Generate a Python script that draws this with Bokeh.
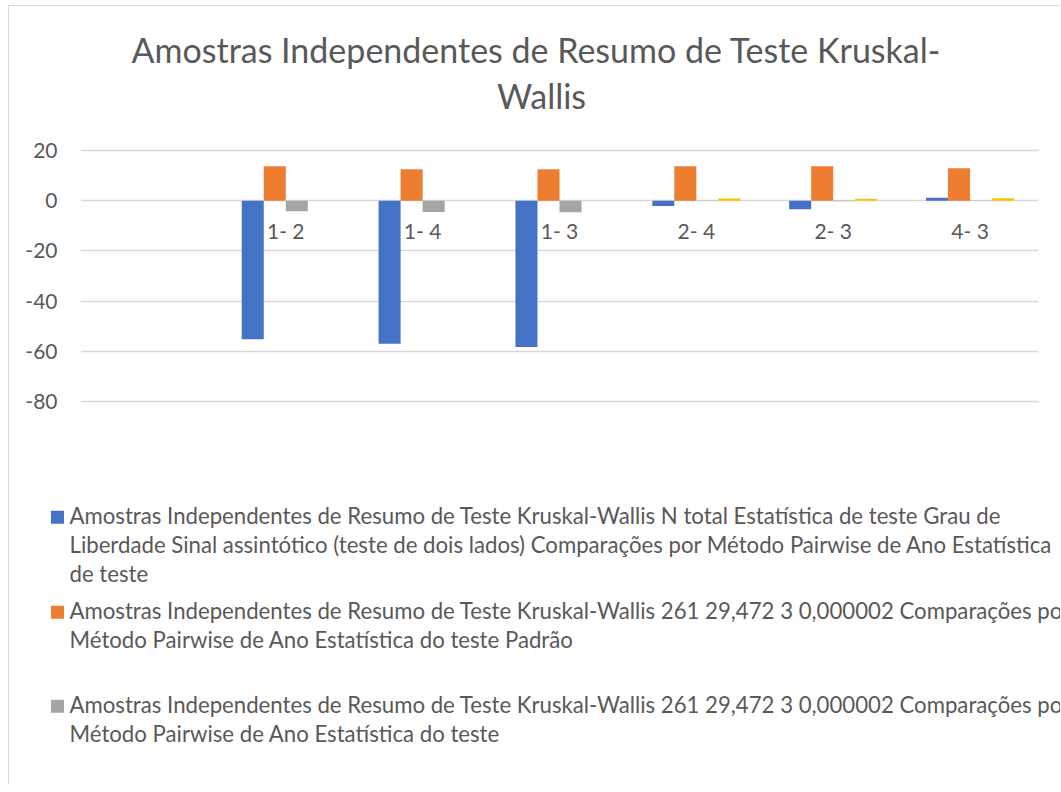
from bokeh.plotting import figure
from bokeh.models import ColumnDataSource, Range1d, FactorRange, Label
from bokeh.transform import dodge
from bokeh.embed import file_html
from bokeh.resources import INLINE

nan = float("nan")

# ---- data -------------------------------------------------------------
categories = [" ", "1- 2", "1- 4", "1- 3", "2- 4", "2- 3", "4- 3"]
test_statistic = [nan, -55.2, -57.0, -58.3, -2.1, -3.4, 1.2]
std_error = [nan, 13.7, 12.5, 12.5, 13.7, 13.7, 12.9]
std_test_statistic = [nan, -4.2, -4.5, -4.6, -0.15, -0.25, 0.09]
significance = [nan, 0.0, 0.0, 0.0, 0.88, 0.80, 0.93]
y_ticks = [-80, -60, -40, -20, 0, 20]
y_tick_labels = ["-80", "-60", "-40", "-20", "0", "20"]

title_lines = ["Amostras Independentes de Resumo de Teste Kruskal-", "Wallis"]
legend_entries = [
    ["Amostras Independentes de Resumo de Teste Kruskal-Wallis N total Estatística de teste Grau de",
     "Liberdade Sinal assintótico (teste de dois lados) Comparações por Método Pairwise de Ano Estatística",
     "de teste"],
    ["Amostras Independentes de Resumo de Teste Kruskal-Wallis 261 29,472 3 0,000002 Comparações por",
     "Método Pairwise de Ano Estatística do teste Padrão"],
    ["Amostras Independentes de Resumo de Teste Kruskal-Wallis 261 29,472 3 0,000002 Comparações por",
     "Método Pairwise de Ano Estatística do teste"],
]
colors = ["#4472C4", "#ED7D31", "#A5A5A5", "#FFC000"]

# ---- layout constants (page pixel coordinates) -------------------------
TEXT = "#595959"
GRID = "#D9D9D9"
BORDER = "1px solid #D9D9D9"
FONT = "Lato"
X0, Y0 = 9, 6            # canvas origin on the page (after border)
W = 1052
HA, HB = 430, 349
PLOT_L, PLOT_R = 80, 1038     # plot area x extent
Y20, YM80 = 150, 401          # pixel rows of the 20 and -80 gridlines
A_BOTTOM = Y0 + HA - 10       # bottom of chart frame
TITLE_SIZE, LEG_SIZE = 34, 22.2
BASE_FIX = 0.37               # baseline correction (em)


def dx(px):
    return (px - PLOT_L) / (PLOT_R - PLOT_L) * len(categories)


def dy(py):
    return 20 - (py - Y20) * 100 / (YM80 - Y20)


# ---- chart figure ------------------------------------------------------
pa = figure(x_range=FactorRange(factors=categories),
            y_range=Range1d(dy(A_BOTTOM), dy(Y0)),
            width=W, height=HA, output_backend="svg", toolbar_location=None,
            min_border_left=PLOT_L - X0, min_border_right=X0 + W - PLOT_R,
            min_border_top=0, min_border_bottom=Y0 + HA - A_BOTTOM,
            margin=(5, 0, 0, 8),
            styles={"border-top": BORDER, "border-left": BORDER})
pa.outline_line_color = None
pa.background_fill_color = "white"
pa.border_fill_color = "white"

src = ColumnDataSource(dict(cat=categories, a=test_statistic, b=std_error,
                            c=std_test_statistic, d=significance))
bw = 0.161
for col, off, colr in zip(["a", "b", "c", "d"], [-1.5, -0.5, 0.5, 1.5], colors):
    pa.vbar(x=dodge("cat", off * bw, range=pa.x_range), top=col, bottom=0,
            width=bw, source=src, fill_color=colr, line_color=None)

pa.xgrid.grid_line_color = None
pa.ygrid.grid_line_color = GRID
pa.ygrid.grid_line_width = 1.5

pa.yaxis.ticker = y_ticks
pa.yaxis.major_label_overrides = dict(zip(y_ticks, y_tick_labels))
pa.yaxis.axis_line_color = None
pa.yaxis.major_tick_line_color = None
pa.yaxis.minor_tick_line_color = None
pa.yaxis.major_tick_out = 0
pa.yaxis.major_tick_in = 0
pa.yaxis.major_label_standoff = 23
pa.yaxis.major_label_text_font = FONT
pa.yaxis.major_label_text_font_size = "21px"
pa.yaxis.major_label_text_color = TEXT

pa.xaxis.fixed_location = 0
pa.xaxis.axis_line_color = None
pa.xaxis.major_tick_line_color = None
pa.xaxis.minor_tick_line_color = None
pa.xaxis.major_tick_out = 0
pa.xaxis.major_tick_in = 0
pa.xaxis.major_label_standoff = 17
pa.xaxis.major_label_text_font = FONT
pa.xaxis.major_label_text_font_size = "21px"
pa.xaxis.major_label_text_color = TEXT

for txt, cx, base in zip(title_lines, [536, 541], [62, 108]):
    pa.add_layout(Label(x=dx(cx), y=dy(base - BASE_FIX * TITLE_SIZE), text=txt,
                        text_align="center", text_baseline="alphabetic",
                        text_font=FONT, text_font_size=f"{TITLE_SIZE}px",
                        text_color=TEXT))

# ---- legend figure -----------------------------------------------------
B_TOP = Y0 + HA
pb = figure(x_range=Range1d(X0, X0 + W), y_range=Range1d(B_TOP + HB, B_TOP),
            width=W, height=HB, output_backend="svg", toolbar_location=None,
            x_axis_location=None, y_axis_location=None,
            min_border=0, min_border_left=0, min_border_right=0,
            min_border_top=0, min_border_bottom=0,
            margin=(0, 0, 0, 8),
            styles={"border-left": BORDER})
pb.outline_line_color = None
pb.grid.visible = False
pb.background_fill_color = "white"
pb.border_fill_color = "white"

entry_base = [524.3, 619.3, 713.3]
line_step = 28.8
sq = 13
pb.quad(left=[50.5] * 3, right=[50.5 + sq] * 3,
        top=[b - sq for b in entry_base], bottom=entry_base,
        fill_color=colors[:3], line_color=None)
for lines, base in zip(legend_entries, entry_base):
    for i, txt in enumerate(lines):
        pb.add_layout(Label(x=69, y=base + i * line_step - BASE_FIX * LEG_SIZE,
                            text=txt, text_align="left", text_baseline="alphabetic",
                            text_font=FONT, text_font_size=f"{LEG_SIZE}px",
                            text_color=TEXT))

open("out.html", "w").write(file_html([pa, pb], INLINE))
